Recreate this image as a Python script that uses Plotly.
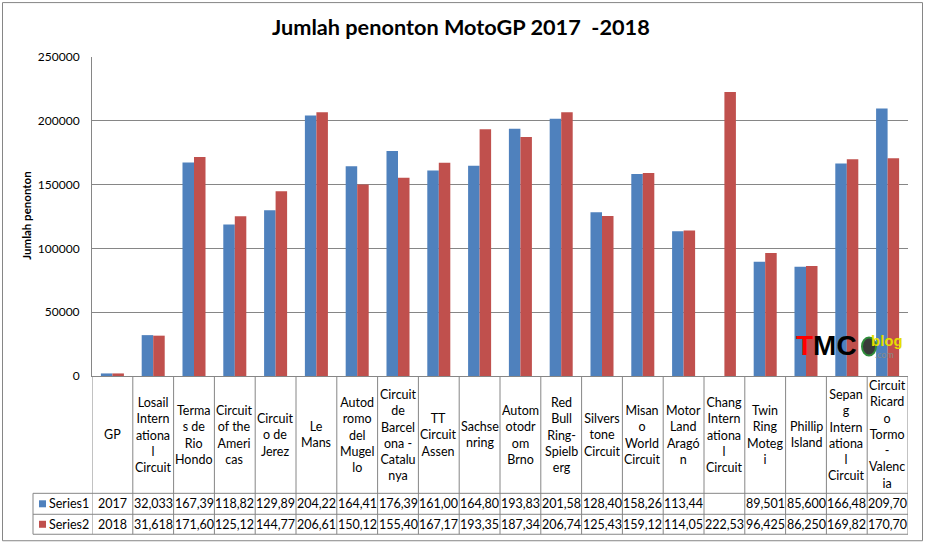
import plotly.graph_objects as go

categories = [
    "GP", "Losail<br>Intern<br>ationa<br>l<br>Circuit", "Terma<br>s de<br>Rio<br>Hondo",
    "Circuit<br>of the<br>Ameri<br>cas", "Circuit<br>o de<br>Jerez", "Le<br>Mans",
    "Autod<br>romo<br>del<br>Mugel<br>lo", "Circuit<br>de<br>Barcel<br>ona -<br>Catalu<br>nya",
    "TT<br>Circuit<br>Assen", "Sachse<br>nring", "Autom<br>otodr<br>om<br>Brno",
    "Red<br>Bull<br>Ring-<br>Spielb<br>erg", "Silvers<br>tone<br>Circuit",
    "Misan<br>o<br>World<br>Circuit", "Motor<br>Land<br>Aragó<br>n",
    "Chang<br>Intern<br>ationa<br>l<br>Circuit", "Twin<br>Ring<br>Moteg<br>i",
    "Phillip<br>Island", "Sepan<br>g<br>Intern<br>ationa<br>l<br>Circuit",
    "Circuit<br>Ricard<br>o<br>Tormo<br>-<br>Valenc<br>ia",
]
series1 = [2017, 32033, 167390, 118820, 129890, 204220, 164410, 176390, 161000, 164800,
           193830, 201580, 128400, 158260, 113440, None, 89501, 85600, 166480, 209700]
series2 = [2018, 31618, 171600, 125120, 144770, 206610, 150120, 155400, 167170, 193350,
           187340, 206740, 125430, 159120, 114050, 222530, 96425, 86250, 169820, 170700]
series_names = ["Series1", "Series2"]
y_ticks = [0, 50000, 100000, 150000, 200000, 250000]

BLUE = "#4F81BD"
RED = "#C0504D"
GRID = "#868686"
FONT = "Lato"

W, H = 925, 545
L, R, T, B = 92, 908, 57, 376.5
n = len(categories)
xs = list(range(n))


def py(p):  # pixel y -> paper y
    return (B - p) / (B - T)


def px(p):  # pixel x -> paper x
    return (p - L) / (R - L)


def fmt(v):
    if v is None:
        return ""
    if v < 10000:
        return str(v)
    return f"{v:,}"[:6]


fig = go.Figure()
fig.add_trace(go.Bar(x=xs, y=series1, name=series_names[0], marker_color=BLUE, marker_line_width=0))
fig.add_trace(go.Bar(x=xs, y=series2, name=series_names[1], marker_color=RED, marker_line_width=0))

shapes = []
ann = []
line = dict(color=GRID, width=1)
# table vertical lines
for i in range(n + 1):
    shapes.append(dict(type="line", xref="x", yref="paper", x0=i - 0.5, x1=i - 0.5,
                       y0=0, y1=py(535), line=line))
shapes.append(dict(type="line", xref="paper", yref="paper", x0=px(33), x1=px(33),
                   y0=py(494), y1=py(535), line=line))
for yy in [494, 515, 535]:
    shapes.append(dict(type="line", xref="paper", yref="paper", x0=px(33), x1=1,
                       y0=py(yy), y1=py(yy), line=line))
# outer chart border
shapes.append(dict(type="rect", xref="paper", yref="paper", x0=px(2.5), x1=px(922.5),
                   y0=py(541.5), y1=py(2.5), line=dict(color=GRID, width=1)))
# legend keys
for k, (col, yc) in enumerate([(BLUE, 504.5), (RED, 525)]):
    shapes.append(dict(type="rect", xref="paper", yref="paper", x0=px(39), x1=px(46),
                       y0=py(yc + 3.5), y1=py(yc - 3.5), fillcolor=col, line_width=0))
    ann.append(dict(xref="paper", yref="paper", x=px(47), y=py(yc), text=series_names[k],
                    showarrow=False, xanchor="left", yanchor="middle",
                    font=dict(family=FONT, size=12.5, color="#000")))

# category labels
for i, c in enumerate(categories):
    ann.append(dict(xref="x", yref="paper", x=i, y=py(435.5), text=c, showarrow=False,
                    xanchor="center", yanchor="middle",
                    font=dict(family=FONT, size=12.5, color="#000")))
    for vals, yc in [(series1, 504.5), (series2, 525)]:
        ann.append(dict(xref="x", yref="paper", x=i, y=py(yc), text=fmt(vals[i]),
                        showarrow=False, xanchor="center", yanchor="middle",
                        font=dict(family=FONT, size=12.5, color="#000")))

# y-axis title
ann.append(dict(xref="paper", yref="paper", x=px(27), y=py(216), text="<b>Jumlah penonton</b>",
                textangle=-90, showarrow=False, xanchor="center", yanchor="middle",
                font=dict(family=FONT, size=11.5, color="#000")))
# chart title
ann.append(dict(xref="paper", yref="paper", x=px(461), y=py(27),
                text="<b>Jumlah penonton MotoGP 2017  -2018</b>", showarrow=False,
                xanchor="center", yanchor="middle", font=dict(family=FONT, size=21.7, color="#000")))
# watermark logo
shapes.append(dict(type="circle", xref="paper", yref="paper", x0=px(862), x1=px(876),
                   y0=py(356), y1=py(338), fillcolor="#3a3a3a", line=dict(color="#2e8b3a", width=2)))
ann.append(dict(xref="paper", yref="paper", x=px(794), y=py(346),
                text="<b><span style='color:#ff0000'>T</span>MC</b>", showarrow=False,
                xanchor="left", yanchor="middle",
                font=dict(family="Liberation Sans", size=28, color="#000")))
ann.append(dict(xref="paper", yref="paper", x=px(869), y=py(341), text="<b>blog</b>",
                showarrow=False, xanchor="left", yanchor="middle",
                font=dict(family="Liberation Sans", size=15, color="#e6de00")))
ann.append(dict(xref="paper", yref="paper", x=px(873), y=py(355), text=".com",
                showarrow=False, xanchor="left", yanchor="middle",
                font=dict(family=FONT, size=9, color="#8a8a8a")))

fig.update_layout(
    width=W, height=H,
    margin=dict(l=L, r=W - R, t=T, b=H - B, pad=0),
    paper_bgcolor="white", plot_bgcolor="white",
    barmode="group", bargap=0.436, bargroupgap=0,
    showlegend=False,
    shapes=shapes, annotations=ann,
    xaxis=dict(range=[-0.5, n - 0.5], showticklabels=False, ticks="", showgrid=False,
               showline=True, linecolor=GRID, linewidth=1, zeroline=False),
    yaxis=dict(range=[0, 250000], tickvals=y_ticks, ticktext=[str(v) for v in y_ticks],
               showgrid=True, gridcolor=GRID, gridwidth=1, zeroline=False,
               showline=True, linecolor=GRID, linewidth=1, ticks="",
               ticklabelstandoff=9,
               tickfont=dict(family=FONT, size=12, color="#000")),
)

fig.write_html("out.html")
